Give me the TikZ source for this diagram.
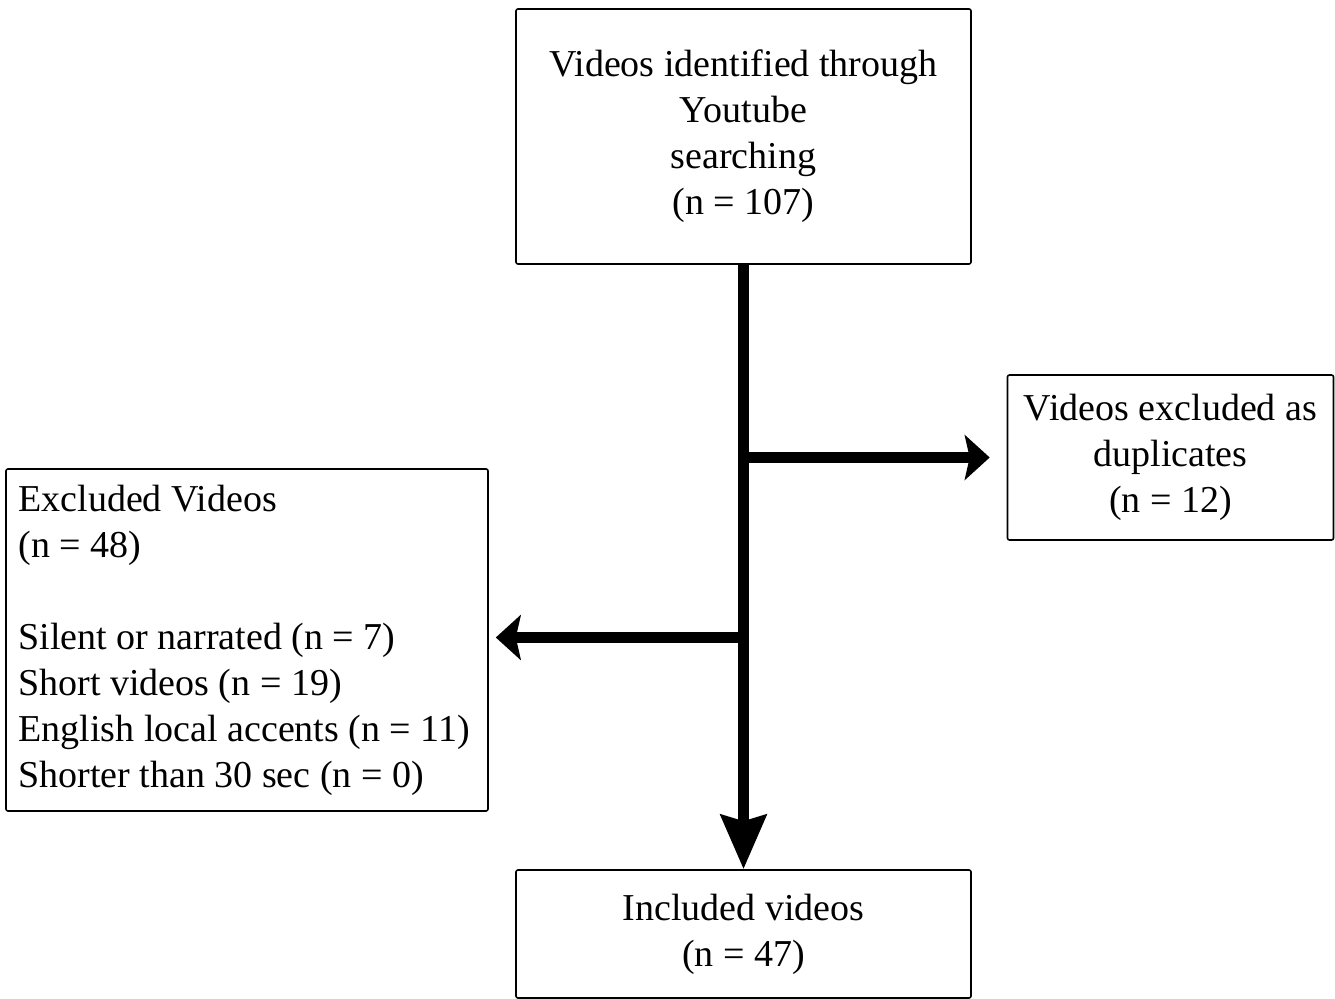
\documentclass[tikz,border=0pt]{standalone}
\usepackage{fontspec}
\setmainfont{Liberation Serif}
\usetikzlibrary{arrows.meta}
\begin{document}
\begin{tikzpicture}[x=0.5pt,y=-0.5pt,
  box/.style={draw=black,line width=0.8pt,rounded corners=1pt,inner sep=0pt,
    font=\fontsize{19pt}{23pt}\selectfont},
  txt/.style={inner sep=0pt,font=\fontsize{19pt}{23pt}\selectfont},
  flow/.style={line width=5.5pt,black},
  sidetip/.style={-{Stealth[length=12.5pt,width=22.5pt,inset=2.5pt]}},
  downtip/.style={-{Stealth[length=27pt,width=22.5pt,inset=3pt]}}]
\useasboundingbox (0,0) rectangle (1335,999);
\node[box,minimum width=227.5pt,minimum height=127.5pt,align=center] (top) at (743.5,136.5)
  {Videos identified through\\Youtube\\searching\\(n = 107)};
\node[box,minimum width=163pt,minimum height=82.5pt,align=center] (dup) at (1170.5,457.5)
  {Videos excluded as\\duplicates\\(n = 12)};
\node[box,minimum width=241pt,minimum height=171pt] (excl) at (247,640) {};
\node[txt,anchor=west,align=left] (excltxt) at (18,640.5)
  {Excluded Videos\\(n = 48)\\[23pt]Silent or narrated (n = 7)\\Short videos (n = 19)\\English local accents (n = 11)\\Shorter than 30 sec (n = 0)};
\node[box,minimum width=227.5pt,minimum height=64pt,align=center] (incl) at (743.5,934)
  {Included videos\\(n = 47)};
\coordinate (j1) at (743.5,457.5);
\coordinate (j2) at (743.5,637.5);
\draw[flow,downtip] (top.south) -- (incl.north);
\draw[flow,sidetip,shorten >=8.5pt] (j1) -- (j1 -| dup.west);
\draw[flow,sidetip,shorten >=3.5pt] (j2) -- (j2 -| excl.east);
\end{tikzpicture}
\end{document}
